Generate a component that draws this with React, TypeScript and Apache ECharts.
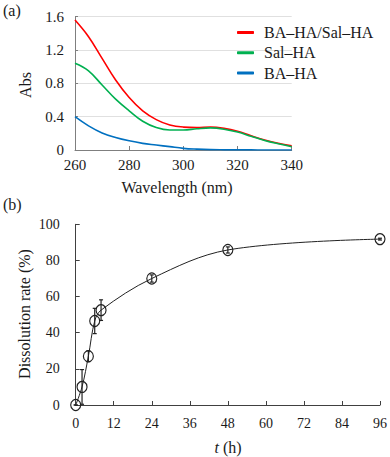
import React, { useEffect, useRef } from "react";
import * as echarts from "echarts";

const wavelengths = [260, 265, 270, 275, 280, 285, 290, 295, 300, 305, 310, 315, 320, 325, 330, 335, 340];
const absMix = [1.56, 1.36, 1.10, 0.84, 0.63, 0.47, 0.365, 0.30, 0.275, 0.27, 0.275, 0.26, 0.225, 0.17, 0.12, 0.08, 0.05];
const absSal = [1.04, 0.95, 0.78, 0.61, 0.47, 0.345, 0.27, 0.24, 0.24, 0.255, 0.265, 0.25, 0.215, 0.165, 0.115, 0.075, 0.04];
const absBA = [0.40, 0.29, 0.205, 0.15, 0.11, 0.08, 0.06, 0.04, 0.02, 0.01, 0.004, 0.002, 0.001, 0.001, 0, 0, 0];
const absTicks = [0, 0.4, 0.8, 1.2, 1.6];

const times = [0, 2, 4, 6, 8, 24, 48, 96];
const dissolution = [0, 10, 27, 46.5, 52.5, 70, 85.8, 91.8];
const dissErr = [0, 9.6, 3, 7, 5.7, 2, 1.7, 0.5];

const FONT = "Liberation Serif";
const TXT = "#1a1a1a";

export default function App() {
  const ref = useRef<HTMLDivElement>(null);
  useEffect(() => {
    const chart = echarts.init(ref.current!, null, { renderer: "svg" });
    const option: any = {
      animation: false,
      textStyle: { fontFamily: FONT },
      grid: [
        { left: 75, top: 16.7, width: 216.7, height: 133.3 },
        { left: 75.7, top: 224.3, width: 304.3, height: 180.7 },
      ],
      legend: {
        left: 237,
        top: 24,
        padding: 0,
        orient: "vertical",
        itemWidth: 17,
        itemHeight: 3,
        itemGap: 3.3,
        icon: "roundRect",
        textStyle: { fontFamily: FONT, fontSize: 16, color: TXT, lineHeight: 17, padding: [0, 0, 0, 5] },
        data: ["BA–HA/Sal–HA", "Sal–HA", "BA–HA"],
      },
      xAxis: [
        {
          gridIndex: 0,
          type: "value",
          min: 260,
          max: 340,
          interval: 20,
          axisLine: { lineStyle: { color: "#7f7f7f", width: 1 } },
          axisTick: { inside: true, length: 4, lineStyle: { color: "#7f7f7f" } },
          axisLabel: { fontFamily: FONT, fontSize: 15, color: TXT, margin: 7 },
          splitLine: { show: false },
        },
        {
          gridIndex: 1,
          type: "value",
          min: 0,
          max: 96,
          interval: 12,
          axisLine: { lineStyle: { color: "#404040", width: 1 } },
          axisTick: { inside: true, length: 4, lineStyle: { color: "#404040" } },
          axisLabel: { fontFamily: FONT, fontSize: 14, color: TXT, margin: 11 },
          splitLine: { show: false },
        },
      ],
      yAxis: [
        {
          gridIndex: 0,
          type: "value",
          min: 0,
          max: 1.6,
          interval: 0.4,
          axisLine: { show: true, lineStyle: { color: "#7f7f7f", width: 1 } },
          axisTick: { show: true, inside: true, length: 3, lineStyle: { color: "#7f7f7f" } },
          axisLabel: {
            fontFamily: FONT,
            fontSize: 15,
            color: TXT,
            margin: 11,
            formatter: (v: number) => {
              const t = absTicks.find((x) => Math.abs(x - v) < 1e-6);
              return t === 0 ? "0" : t !== undefined ? t.toFixed(1) : "";
            },
          },
          splitLine: { show: true, lineStyle: { color: "#e0e0e0", width: 1 } },
        },
        {
          gridIndex: 1,
          type: "value",
          min: 0,
          max: 100,
          interval: 20,
          axisLine: { show: true, lineStyle: { color: "#404040", width: 1 } },
          axisTick: { show: true, inside: true, length: 4, lineStyle: { color: "#404040" } },
          axisLabel: { fontFamily: FONT, fontSize: 14, color: TXT, margin: 16 },
          splitLine: { show: false },
        },
      ],
      series: [
        {
          name: "BA–HA",
          type: "line",
          xAxisIndex: 0,
          yAxisIndex: 0,
          smooth: 0.4,
          showSymbol: false,
          data: wavelengths.map((w, i) => [w, absBA[i]]),
          lineStyle: { color: "#0070c0", width: 1.6 },
          itemStyle: { color: "#0070c0" },
          z: 3,
        },
        {
          name: "Sal–HA",
          type: "line",
          xAxisIndex: 0,
          yAxisIndex: 0,
          smooth: 0.4,
          showSymbol: false,
          data: wavelengths.map((w, i) => [w, absSal[i]]),
          lineStyle: { color: "#00b050", width: 1.6 },
          itemStyle: { color: "#00b050" },
          z: 4,
        },
        {
          name: "BA–HA/Sal–HA",
          type: "line",
          xAxisIndex: 0,
          yAxisIndex: 0,
          smooth: 0.4,
          showSymbol: false,
          data: wavelengths.map((w, i) => [w, absMix[i]]),
          lineStyle: { color: "#ff0000", width: 1.6 },
          itemStyle: { color: "#ff0000" },
          z: 2,
        },
        {
          name: "err",
          type: "custom",
          xAxisIndex: 1,
          yAxisIndex: 1,
          data: times.map((t, i) => [t, dissolution[i] - dissErr[i], dissolution[i] + dissErr[i]]),
          renderItem: (params: any, api: any) => {
            const x = api.value(0);
            const lo = api.coord([x, api.value(1)]);
            const hi = api.coord([x, api.value(2)]);
            const cap = 2;
            const st = { stroke: "#222", lineWidth: 1.2 };
            return {
              type: "group",
              children: [
                { type: "line", shape: { x1: lo[0], y1: lo[1], x2: hi[0], y2: hi[1] }, style: st },
                { type: "line", shape: { x1: lo[0] - cap, y1: lo[1], x2: lo[0] + cap, y2: lo[1] }, style: st },
                { type: "line", shape: { x1: hi[0] - cap, y1: hi[1], x2: hi[0] + cap, y2: hi[1] }, style: st },
              ],
            };
          },
          z: 5,
        },
        {
          name: "diss",
          type: "line",
          xAxisIndex: 1,
          yAxisIndex: 1,
          smooth: 0.35,
          symbol: "circle",
          symbolSize: [10, 11],
          showSymbol: true,
          data: times.map((t, i) => [t, dissolution[i]]),
          lineStyle: { color: "#222", width: 1 },
          itemStyle: { color: "rgba(255,255,255,0)", borderColor: "#222", borderWidth: 1.2 },
          z: 6,
        },
      ],
      graphic: [
        { type: "text", left: 3, top: 2, style: { text: "(a)", fontFamily: FONT, fontSize: 16, fill: TXT } },
        { type: "text", left: 3, top: 196, style: { text: "(b)", fontFamily: FONT, fontSize: 16, fill: TXT } },
        {
          type: "text",
          x: 25,
          y: 85,
          rotation: Math.PI / 2,
          style: { text: "Abs", fontFamily: FONT, fontSize: 16, fill: TXT, align: "center", verticalAlign: "middle" },
        },
        {
          type: "text",
          x: 177,
          y: 187,
          style: { text: "Wavelength (nm)", fontFamily: FONT, fontSize: 16, fill: TXT, align: "center", verticalAlign: "middle" },
        },
        {
          type: "text",
          x: 24,
          y: 314,
          rotation: Math.PI / 2,
          style: { text: "Dissolution rate (%)", fontFamily: FONT, fontSize: 16, fill: TXT, align: "center", verticalAlign: "middle" },
        },
        {
          type: "text",
          x: 228,
          y: 447,
          style: {
            text: "{i|t} (h)",
            fontFamily: FONT,
            fontSize: 16,
            fill: TXT,
            align: "center",
            verticalAlign: "middle",
            rich: { i: { fontStyle: "italic", fontFamily: FONT, fontSize: 16, fill: TXT } },
          },
        },
      ],
    };
    chart.setOption(option);
    return () => chart.dispose();
  }, []);
  return <div ref={ref} style={{ width: 390, height: 457, position: "absolute", left: 0, top: 0 }} />;
}
